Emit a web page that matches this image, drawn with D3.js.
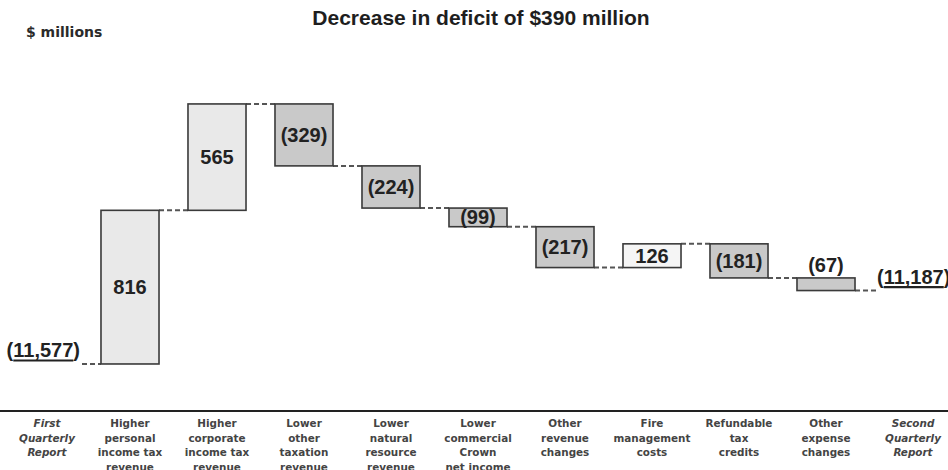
<!DOCTYPE html>
<html>
<head>
<meta charset="utf-8">
<script src="https://cdn.jsdelivr.net/npm/d3@7/dist/d3.min.js"></script>
<style>
  html, body { margin: 0; padding: 0; background: #fff; }
  svg { display: block; }
</style>
</head>
<body>
<svg id="chart" width="948" height="470"></svg>
<script>
// Category labels, one entry per column, split into display lines
const categories = [
  ["First", "Quarterly", "Report"],
  ["Higher", "personal", "income tax", "revenue"],
  ["Higher", "corporate", "income tax", "revenue"],
  ["Lower", "other", "taxation", "revenue"],
  ["Lower", "natural", "resource", "revenue"],
  ["Lower", "commercial", "Crown", "net income"],
  ["Other", "revenue", "changes"],
  ["Fire", "management", "costs"],
  ["Refundable", "tax", "credits"],
  ["Other", "expense", "changes"],
  ["Second", "Quarterly", "Report"]
];

// Opening and closing positions ($ millions)
const startTotal = -11577;
const endTotal = -11187;

// Changes between the two reports ($ millions); positive reduces the deficit
const changes = [816, 565, -329, -224, -99, -217, 126, -181, -67];

// Whether each change comes from the revenue or expense side
const changeSide = ["revenue", "revenue", "revenue", "revenue", "revenue", "revenue", "expense", "expense", "expense"];

const fmt = v => {
  const s = d3.format(",")(Math.abs(v));
  return v < 0 ? "(" + s + ")" : s;
};

const svg = d3.select("#chart");
const keys = d3.range(categories.length);

const x = d3.scaleBand()
  .domain(keys)
  .range([-0.5, 956.5])
  .paddingInner(0.333)
  .paddingOuter(0.1665);

const y = d3.scaleLinear()
  .domain([-11900, -9900])
  .range([424.8, 48.2]);

// Running totals for the floating bars
let running = startTotal;
const bars = changes.map((v, i) => {
  const from = running;
  running += v;
  return { i: i + 1, value: v, from, to: running, side: changeSide[i] };
});

const fillFor = d => d.value < 0 ? "#c9c9c9" : (d.side === "expense" ? "#f5f5f5" : "#e9e9e9");

// Title and unit note
svg.append("text")
  .attr("x", 481).attr("y", 25)
  .attr("text-anchor", "middle")
  .style("font-family", "Arial, 'Liberation Sans', sans-serif")
  .style("font-weight", "bold")
  .style("font-size", "21px")
  .attr("fill", "#1e1e1e")
  .text("Decrease in deficit of $390 million");

svg.append("text")
  .attr("x", 26).attr("y", 37)
  .style("font-family", "'DejaVu Sans', Verdana, sans-serif")
  .style("font-weight", "bold")
  .style("font-size", "14px")
  .attr("fill", "#2a2a2a")
  .text("$ millions");

// Dashed connectors between consecutive bars
const connG = svg.append("g")
  .attr("stroke", "#555")
  .attr("stroke-width", 2)
  .attr("stroke-dasharray", "5,3");

const startLabelEnd = x(0) + x.bandwidth() / 2 + 37;
const endLabelStart = x(10) + x.bandwidth() / 2 - 36;

connG.append("line")
  .attr("x1", startLabelEnd + 2).attr("x2", x(1))
  .attr("y1", y(startTotal)).attr("y2", y(startTotal));

bars.forEach((d, k) => {
  const x1 = x(d.i) + x.bandwidth();
  const x2 = k < bars.length - 1 ? x(d.i + 1) : endLabelStart - 1;
  connG.append("line")
    .attr("x1", x1).attr("x2", x2)
    .attr("y1", y(d.to)).attr("y2", y(d.to));
});

// Floating bars
svg.append("g").selectAll("rect")
  .data(bars)
  .join("rect")
  .attr("x", d => x(d.i))
  .attr("width", x.bandwidth())
  .attr("y", d => y(Math.max(d.from, d.to)))
  .attr("height", d => Math.abs(y(d.from) - y(d.to)))
  .attr("fill", fillFor)
  .attr("stroke", "#3a3a3a")
  .attr("stroke-width", 1.6);

// Value labels: centred inside the bar, or above it if the bar is too thin
const valueFont = "Arial, 'Liberation Sans', sans-serif";
svg.append("g").selectAll("text")
  .data(bars)
  .join("text")
  .attr("x", d => x(d.i) + x.bandwidth() / 2)
  .attr("y", d => {
    const top = y(Math.max(d.from, d.to));
    const h = Math.abs(y(d.from) - y(d.to));
    return h < 16 ? top - 6 : top + h / 2 + 7;
  })
  .attr("text-anchor", "middle")
  .style("font-family", valueFont)
  .style("font-weight", "bold")
  .style("font-size", "20px")
  .attr("fill", "#222")
  .text(d => fmt(d.value));

// Opening and closing totals, with the figure underlined
function totalLabel(value, xPos, anchor) {
  const t = svg.append("text")
    .attr("x", xPos)
    .attr("y", y(value) - 7)
    .attr("text-anchor", anchor)
    .style("font-family", valueFont)
    .style("font-weight", "bold")
    .style("font-size", "20px")
    .attr("fill", "#222")
    .text(fmt(value));
  const node = t.node();
  const n = node.getNumberOfChars();
  const box = node.getBBox();
  const off = node.getSubStringLength(0, 1);
  const w = node.getSubStringLength(1, n - 2);
  svg.append("line")
    .attr("x1", box.x + off).attr("x2", box.x + off + w)
    .attr("y1", y(value) - 3.5).attr("y2", y(value) - 3.5)
    .attr("stroke", "#222")
    .attr("stroke-width", 2.2);
}
totalLabel(startTotal, startLabelEnd, "end");
totalLabel(endTotal, endLabelStart, "start");

// Baseline rule and category labels
svg.append("line")
  .attr("x1", 0).attr("x2", 948)
  .attr("y1", 411).attr("y2", 411)
  .attr("stroke", "#222")
  .attr("stroke-width", 2.2);

const catG = svg.append("g")
  .style("font-family", "'DejaVu Sans', Verdana, sans-serif")
  .style("font-weight", "bold")
  .style("font-size", "10.4px")
  .attr("fill", "#444")
  .attr("text-anchor", "middle");

categories.forEach((lines, i) => {
  const cx = x(i) + x.bandwidth() / 2 + (i === 0 ? 4 : 0);
  const t = catG.append("text")
    .attr("x", cx)
    .attr("y", 427)
    .style("font-style", (i === 0 || i === categories.length - 1) ? "italic" : "normal");
  lines.forEach((line, j) => {
    t.append("tspan")
      .attr("x", cx)
      .attr("dy", j === 0 ? 0 : 14.5)
      .text(line);
  });
});
</script>
</body>
</html>
